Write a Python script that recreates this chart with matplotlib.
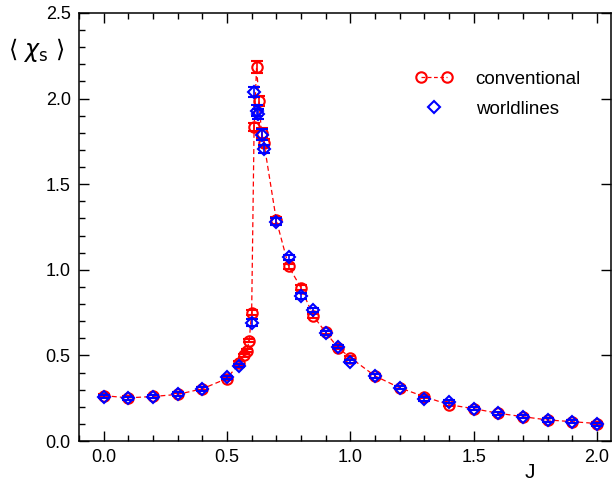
import matplotlib
matplotlib.use("Agg")
import matplotlib.pyplot as plt
from matplotlib.ticker import MultipleLocator
from matplotlib.lines import Line2D

plt.rcParams['font.family'] = ['Liberation Sans', 'DejaVu Sans']
plt.rcParams['mathtext.fontset'] = 'dejavusans'

# conventional (red circles)
J_conv = [0.0, 0.1, 0.2, 0.3, 0.4, 0.5, 0.55, 0.57, 0.58, 0.59, 0.6, 0.61, 0.62,
          0.63, 0.64, 0.65, 0.7, 0.75, 0.8, 0.85, 0.9, 0.95, 1.0, 1.1, 1.2, 1.3,
          1.4, 1.5, 1.6, 1.7, 1.8, 1.9, 2.0]
chi_conv = [0.265, 0.252, 0.26, 0.272, 0.305, 0.365, 0.455, 0.50, 0.527, 0.586, 0.75,
            1.835, 2.185, 1.985, 1.80, 1.74, 1.29, 1.02, 0.895, 0.73, 0.635, 0.545,
            0.487, 0.38, 0.311, 0.259, 0.212, 0.189, 0.162, 0.142, 0.123, 0.113, 0.102]
err_conv = [0.01, 0.01, 0.01, 0.01, 0.01, 0.01, 0.01, 0.01, 0.01, 0.01, 0.015,
            0.025, 0.035, 0.03, 0.03, 0.025, 0.02, 0.015, 0.015, 0.01, 0.01, 0.01,
            0.01, 0.01, 0.01, 0.01, 0.01, 0.01, 0.01, 0.01, 0.01, 0.01, 0.01]

# worldlines (blue diamonds)
J_wl = [0.0, 0.1, 0.2, 0.3, 0.4, 0.5, 0.55, 0.6, 0.61, 0.62, 0.625, 0.64, 0.65,
        0.7, 0.75, 0.8, 0.85, 0.9, 0.95, 1.0, 1.1, 1.2, 1.3, 1.4, 1.5, 1.6, 1.7,
        1.8, 1.9, 2.0]
chi_wl = [0.259, 0.249, 0.259, 0.275, 0.304, 0.372, 0.44, 0.69, 2.04, 1.93, 1.91,
          1.79, 1.706, 1.28, 1.073, 0.847, 0.765, 0.632, 0.551, 0.463, 0.38, 0.311,
          0.245, 0.23, 0.189, 0.162, 0.142, 0.123, 0.113, 0.098]
err_wl = [0.01, 0.01, 0.01, 0.01, 0.01, 0.01, 0.01, 0.02, 0.03, 0.03, 0.03,
          0.03, 0.025, 0.02, 0.015, 0.015, 0.01, 0.01, 0.01, 0.01, 0.01, 0.01,
          0.01, 0.01, 0.01, 0.01, 0.01, 0.01, 0.01, 0.01]

fig = plt.figure(figsize=(6.14, 4.86), dpi=100)
ax = fig.add_axes([79/614, 1-441/486, (611-79)/614, (441-13)/486])

ax.plot(J_conv, chi_conv, linestyle=(0, (4, 2.5)), color='red', lw=0.9, zorder=1)
ax.errorbar(J_conv, chi_conv, yerr=err_conv, fmt='o', mfc='none', mec='red',
            mew=1.5, ms=7.5, ecolor='red', elinewidth=1.2, capsize=4,
            capthick=1.2, zorder=2)
ax.errorbar(J_wl, chi_wl, yerr=err_wl, fmt='D', mfc='none', mec='blue',
            mew=1.5, ms=6.5, ecolor='blue', elinewidth=1.2, capsize=4,
            capthick=1.2, zorder=3)

ax.set_xlim(-0.1, 2.057)
ax.set_ylim(0, 2.5)
ax.xaxis.set_major_locator(MultipleLocator(0.5))
ax.xaxis.set_minor_locator(MultipleLocator(0.1))
ax.yaxis.set_major_locator(MultipleLocator(0.5))
ax.yaxis.set_minor_locator(MultipleLocator(0.1))
ax.xaxis.set_major_formatter(matplotlib.ticker.FormatStrFormatter('%.1f'))
ax.yaxis.set_major_formatter(matplotlib.ticker.FormatStrFormatter('%.1f'))
ax.tick_params(which='both', direction='in', top=True, right=True,
               width=1.0, labelsize=13)
ax.tick_params(which='major', length=7, pad=6)
ax.tick_params(which='minor', length=4)
ax.tick_params(axis='y', which='minor', right=False)
for s in ax.spines.values():
    s.set_linewidth(1.1)

fig.text(8/614, 1-50/486, r'$\langle\ \chi_{\rm s}\ \rangle$', fontsize=17,
         va='center', ha='left')
fig.text(530/614, 1-472/486, 'J', fontsize=15, ha='center', va='center')

h1 = Line2D([], [], color='red', linestyle=(0, (3, 2)), lw=0.9, marker='o',
            mfc='none', mec='red', mew=1.5, ms=7.5)
h2 = Line2D([], [], color='none', marker='D', mfc='none', mec='blue', mew=1.5,
            ms=6.5, linestyle='none')
ax.legend([h1, h2], ['conventional', 'worldlines'], loc='upper right',
          bbox_to_anchor=(0.975, 0.905), frameon=False, fontsize=13.5,
          numpoints=2, handlelength=2.0, handletextpad=1.2, labelspacing=0.7,
          handler_map={h2: matplotlib.legend_handler.HandlerLine2D(numpoints=1)})

fig.savefig('out.png', dpi=100)
